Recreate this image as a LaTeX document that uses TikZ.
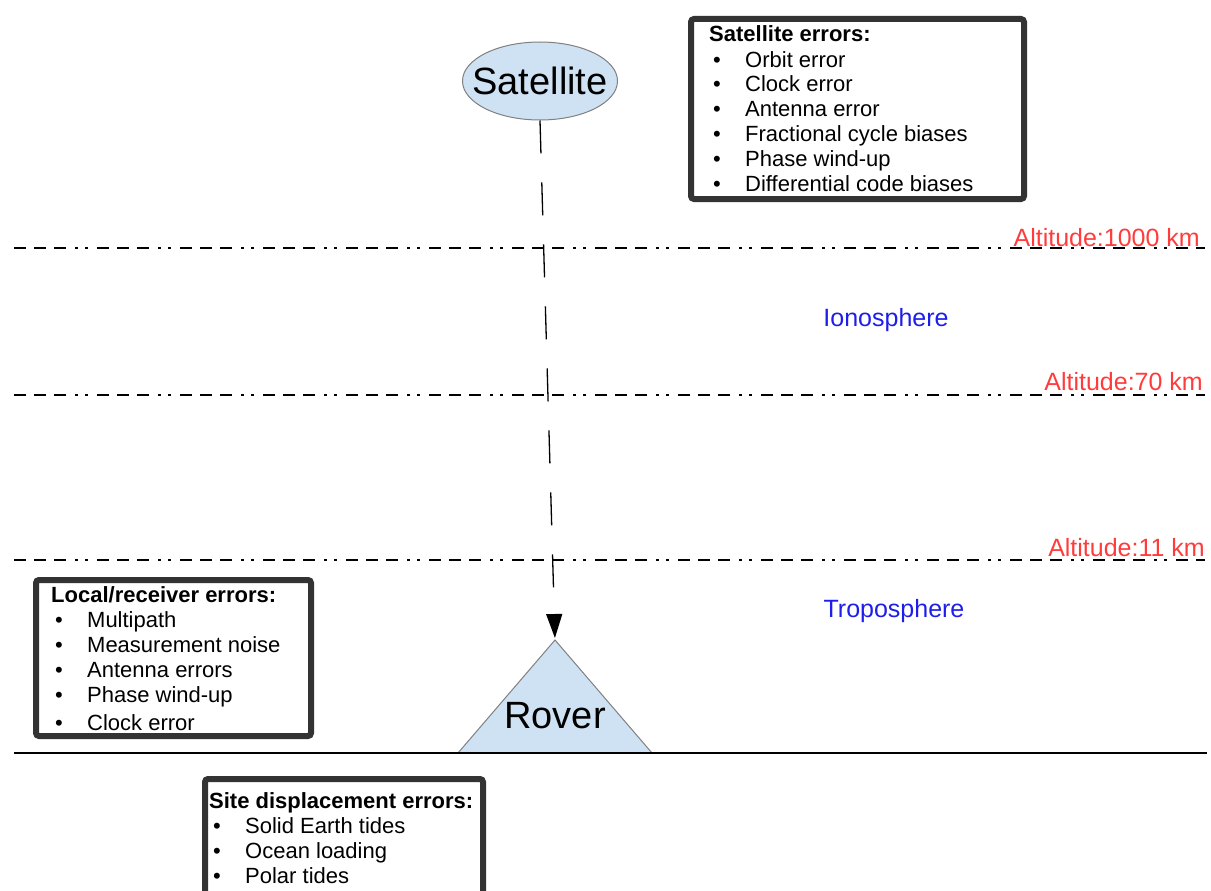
\documentclass[tikz,border=0pt]{standalone}
\usepackage{fontspec}
\setmainfont{Liberation Sans}
\usetikzlibrary{arrows.meta, shapes.geometric, positioning}
\definecolor{skyfill}{RGB}{207,226,243}
\definecolor{framegray}{RGB}{51,51,51}
\definecolor{altred}{RGB}{255,60,60}
\definecolor{zoneblue}{RGB}{30,30,235}
\tikzset{body/.style = {
  % Shape:
  fill=skyfill,
  draw=black!50,
  line width=1pt
  }}
\tikzset{bodyname/.style = {
  inner sep=0pt,
  font=\fontsize{38}{44}\selectfont
  }}
\tikzset{layer/.style = {
  line width=1.3pt,
  dash pattern=on 12pt off 8pt on 12pt off 8pt on 12pt off 9pt on 3pt off 7pt on 3pt off 9pt
  }}
\tikzset{signal/.style = {
  -{Triangle[width=16pt,length=24pt]},
  line width=1.3pt,
  dash pattern=on 33pt off 29pt,
  shorten >= 2pt
  }}
\tikzset{errframe/.style = {
  draw=framegray,
  line width=6pt,
  rounded corners=3pt,
  anchor=north west,
  inner sep=0pt,
  outer sep=0pt
  }}
\tikzset{errlist/.style = {
  anchor=base west,
  inner sep=0pt,
  font=\fontsize{22}{25}\selectfont
  }}
\tikzset{altlabel/.style = {
  anchor=base east,
  inner sep=0pt,
  text=altred,
  font=\fontsize{25}{30}\selectfont
  }}
\tikzset{zone/.style = {
  inner sep=0pt,
  text=zoneblue,
  font=\fontsize{25}{30}\selectfont
  }}
\newcommand{\errlist}[2]{%
  \begin{tabular}[t]{@{\hspace{4pt}}p{32pt}@{}l@{}}
  \multicolumn{2}{@{}l@{}}{\textbf{#1}}\\
  #2
  \end{tabular}}

\begin{document}
\begin{tikzpicture}[x=1pt, y=-1pt]
\useasboundingbox (0,0) rectangle (1211,891);
\clip (0,0) rectangle (1211,891);

% LAYERS
\foreach \y/\alt/\xr/\yb in {248/1000/1200/246, 395/70/1203/390, 560/11/1205/556} {
  \draw [layer] (14,\y) -- (1205,\y);
  \node (alt\alt) [altlabel] at (\xr,\yb) {Altitude:\alt~km};
}
\node (iono) [zone] at (886,320) {Ionosphere};
\node (tropo) [zone] at (894,611) {Troposphere};

% NODES
\node (sat) [body, ellipse, minimum width=155pt, minimum height=78pt, inner sep=0pt] at (540,81) {};
\node (satname) [bodyname] at (sat.center) {Satellite};

\coordinate (apex) at (555,640);
\draw [body] (apex) -- (458,753) -- (652,753) -- cycle;
\node (rover) [bodyname] at (555,716) {Rover};

% ground
\draw [line width=1.2pt] (14,753) -- (1207,753);

% error boxes
\node (satframe) [errframe, minimum width=333pt, minimum height=180pt] at (691,19) {};
\node (satlist) [errlist] at (709,42) {\errlist{Satellite errors:}{%
  \textbullet & Orbit error\\
  \textbullet & Clock error\\
  \textbullet & Antenna error\\
  \textbullet & Fractional cycle biases\\
  \textbullet & Phase wind-up\\
  \textbullet & Differential code biases}};

\node (locframe) [errframe, minimum width=275pt, minimum height=156pt] at (36,580) {};
\node (loclist) [errlist] at (51,602) {\errlist{Local/receiver errors:}{%
  \textbullet & Multipath\\
  \textbullet & Measurement noise\\
  \textbullet & Antenna errors\\
  \textbullet & Phase wind-up\\[3pt]
  \textbullet & Clock error}};

\node (siteframe) [errframe, minimum width=278pt, minimum height=140pt] at (205,779) {};
\node (sitelist) [errlist] at (209,808) {\errlist{Site displacement errors:}{%
  \textbullet & Solid Earth tides\\
  \textbullet & Ocean loading\\
  \textbullet & Polar tides}};

% arrows
\draw [signal] (sat.south) -- (apex);
\end{tikzpicture}
\end{document}
